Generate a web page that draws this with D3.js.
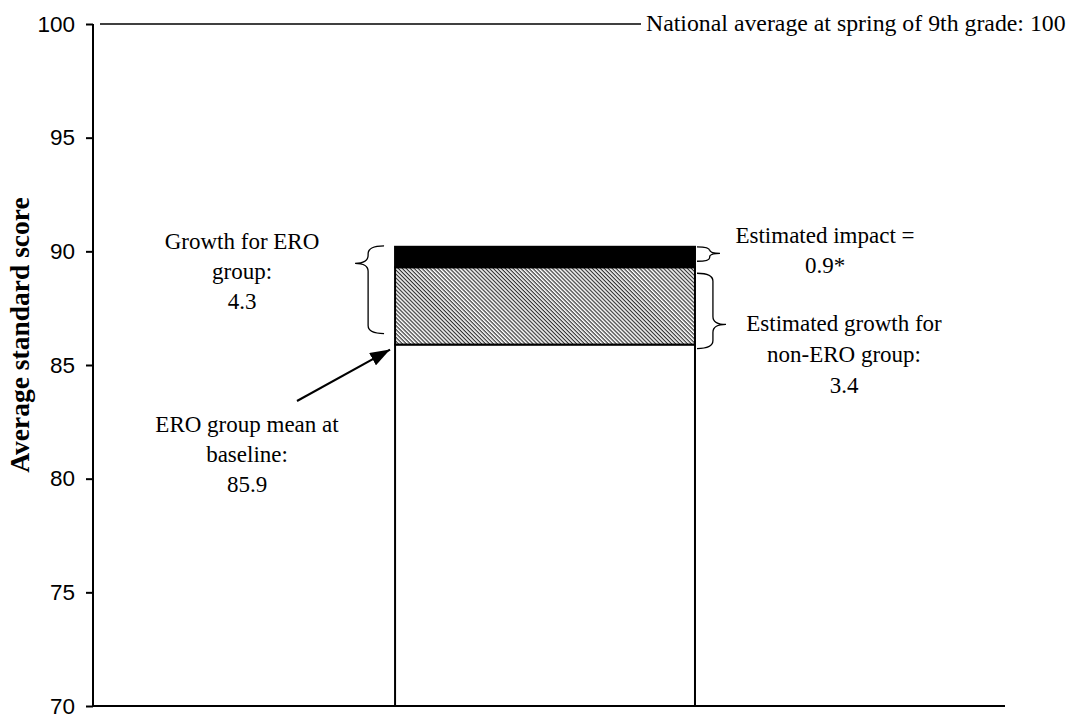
<!DOCTYPE html>
<html>
<head>
<meta charset="utf-8">
<script src="https://cdn.jsdelivr.net/npm/d3@7/dist/d3.min.js"></script>
<style>
  body { margin: 0; background: #fff; }
  svg text { fill: #000; }
</style>
</head>
<body>
<svg id="chart" width="1075" height="716"></svg>
<script>
// data
var categories = ["ERO"];
var baseline = [85.9];     // ERO group mean at baseline
var nonEroGrowth = [3.4];  // estimated growth for non-ERO group
var impact = [0.9];        // estimated impact
var nationalAvg = 100;
var yTicks = [70, 75, 80, 85, 90, 95, 100];

var serif = "'Liberation Serif', 'Times New Roman', serif";
var svg = d3.select("#chart");

var y = d3.scaleLinear().domain([70, 100]).range([706, 24]);
var x = d3.scaleBand().domain(categories).range([93, 1005]).paddingInner(0.51).paddingOuter(0.5).align(0.4935);

var defs = svg.append("defs");
// diagonal hatch
var pat = defs.append("pattern")
  .attr("id", "hatch")
  .attr("patternUnits", "userSpaceOnUse")
  .attr("width", 2.8).attr("height", 2.8)
  .attr("patternTransform", "rotate(45)");
pat.append("rect").attr("width", 2.8).attr("height", 2.8).attr("fill", "#fff");
pat.append("rect").attr("x", 0).attr("y", 0).attr("width", 2.8).attr("height", 1.2).attr("fill", "#333");

// y axis
var yAxis = d3.axisLeft(y).tickValues(yTicks).tickSize(7).tickPadding(11);
var gy = svg.append("g").attr("transform", "translate(93,0)").call(yAxis);
gy.select(".domain").attr("stroke", "#000").attr("stroke-width", 2).attr("d", "M0," + y(100) + "V" + y(70));
gy.selectAll(".tick line").attr("stroke", "#000").attr("stroke-width", 2);
gy.selectAll(".tick text").attr("font-family", "'Liberation Sans', Arial, sans-serif").attr("font-size", 22.5).attr("fill", "#000");

// x axis baseline
svg.append("line").attr("x1", 93).attr("x2", 1005).attr("y1", y(70)).attr("y2", y(70))
  .attr("stroke", "#000").attr("stroke-width", 2);

// axis title
svg.append("text")
  .attr("transform", "translate(29,335) rotate(-90)")
  .attr("text-anchor", "middle")
  .attr("font-family", serif).attr("font-size", 27.5).attr("font-weight", "bold")
  .text("Average standard score");

// national average line
svg.append("line").attr("x1", 100).attr("x2", 641).attr("y1", y(nationalAvg)).attr("y2", y(nationalAvg))
  .attr("stroke", "#000").attr("stroke-width", 1.5);
svg.append("text").attr("x", 646).attr("y", y(nationalAvg) + 7)
  .attr("font-family", serif).attr("font-size", 23.8)
  .text("National average at spring of 9th grade: " + nationalAvg);

// stacked bar
var segs = [];
categories.forEach(function(c, i) {
  var top1 = baseline[i], top2 = top1 + nonEroGrowth[i], top3 = top2 + impact[i];
  segs.push({c: c, y0: 70, y1: top1, fill: "#fff"});
  segs.push({c: c, y0: top1, y1: top2, fill: "url(#hatch)"});
  segs.push({c: c, y0: top2, y1: top3, fill: "#000"});
});
svg.selectAll("rect.seg").data(segs).enter().append("rect")
  .attr("class", "seg")
  .attr("x", function(d) { return x(d.c); })
  .attr("width", x.bandwidth())
  .attr("y", function(d) { return y(d.y1); })
  .attr("height", function(d) { return y(d.y0) - y(d.y1); })
  .attr("fill", function(d) { return d.fill; })
  .attr("stroke", "#000").attr("stroke-width", 2);

// curly brace between ya and yb; tip at fraction f, dir -1 = tip left
function brace(xEdge, ya, yb, w, dir, f) {
  var ym = ya + (yb - ya) * f;
  var xi = xEdge + dir * w * 0.55, xt = xEdge + dir * w;
  var r = Math.min(8, (yb - ya) * 0.25);
  var p = d3.path();
  p.moveTo(xEdge, ya);
  p.quadraticCurveTo(xi, ya, xi, ya + r);
  p.lineTo(xi, ym - r);
  p.quadraticCurveTo(xi, ym, xt, ym);
  p.quadraticCurveTo(xi, ym, xi, ym + r);
  p.lineTo(xi, yb - r);
  p.quadraticCurveTo(xi, yb, xEdge, yb);
  return p.toString();
}
var bx0 = x(categories[0]), bx1 = bx0 + x.bandwidth();
var b0 = baseline[0], b1 = b0 + nonEroGrowth[0], b2 = b1 + impact[0];
function braceStyle(s) { s.attr("fill", "none").attr("stroke", "#000").attr("stroke-width", 1.3); }

svg.append("path").attr("d", brace(bx0 - 11, y(b2) - 1, y(b0) - 11, 29, -1, 0.2)).call(braceStyle);
svg.append("path").attr("d", brace(bx1 + 2, y(b2), y(b1) - 6, 23, 1, 0.45)).call(braceStyle);
svg.append("path").attr("d", brace(bx1 + 2, y(b1) + 6, y(b0) + 4, 29, 1, 0.68)).call(braceStyle);

// arrow
defs.append("marker").attr("id", "arr").attr("viewBox", "0 0 20 14")
  .attr("refX", 20).attr("refY", 7).attr("markerWidth", 20).attr("markerHeight", 14)
  .attr("markerUnits", "userSpaceOnUse").attr("orient", "auto")
  .append("path").attr("d", "M0,0L20,7L0,14Z").attr("fill", "#000");
svg.append("line").attr("x1", 297).attr("y1", 401).attr("x2", bx0 - 5).attr("y2", y(b0) + 5)
  .attr("stroke", "#000").attr("stroke-width", 2)
  .attr("marker-end", "url(#arr)");

// text labels
function label(cx, cy, lines, dy) {
  var t = svg.append("text").attr("text-anchor", "middle")
    .attr("font-family", serif).attr("font-size", 23);
  lines.forEach(function(s, i) {
    t.append("tspan").attr("x", cx).attr("y", cy + i * dy).text(s);
  });
}
label(242, 249, ["Growth for ERO", "group:", d3.format(".1f")(nonEroGrowth[0] + impact[0])], 30);
label(825, 243, ["Estimated impact =", impact[0] + "*"], 30);
label(844, 331, ["Estimated growth for", "non-ERO group:", nonEroGrowth[0].toFixed(1)], 31);
label(247, 432, ["ERO group mean at", "baseline:", baseline[0].toFixed(1)], 30);
</script>
</body>
</html>
